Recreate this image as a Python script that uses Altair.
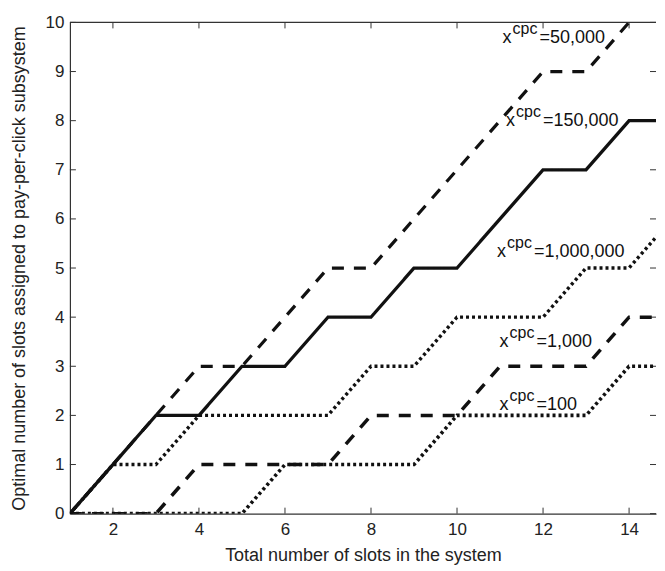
import altair as alt
import pandas as pd

# ---- data ----
slots = [1, 2, 3, 4, 5, 6, 7, 8, 9, 10, 11, 12, 13, 14, 15]
series_names = ["50,000", "150,000", "1,000,000", "1,000", "100"]
y_50000 = [0, 1, 2, 3, 3, 4, 5, 5, 6, 7, 8, 9, 9, 10, 11]
y_150000 = [0, 1, 2, 2, 3, 3, 4, 4, 5, 5, 6, 7, 7, 8, 8]
y_1000000 = [0, 1, 1, 2, 2, 2, 2, 3, 3, 4, 4, 4, 5, 5, 6]
y_1000 = [0, 0, 0, 1, 1, 1, 1, 2, 2, 2, 3, 3, 3, 4, 4]
y_100 = [0, 0, 0, 0, 0, 1, 1, 1, 1, 2, 2, 2, 2, 3, 3]

label_x = [11.06, 11.14, 10.93, 10.99, 10.99]
label_y = [9.59, 7.89, 5.23, 3.39, 2.11]
label_text = ["=50,000", "=150,000", "=1,000,000", "=1,000", "=100"]

x_ticks = [2, 4, 6, 8, 10, 12, 14]
y_ticks = [0, 1, 2, 3, 4, 5, 6, 7, 8, 9, 10]

W, H = 587, 492
XMAX = 1 + W / 43.08
FONT = "Liberation Sans"
INK = "#111111"

rows = []
for name, ys in zip(series_names, [y_50000, y_150000, y_1000000, y_1000, y_100]):
    for xv, yv in zip(slots, ys):
        rows.append({"series": name, "x": xv, "y": yv})
df = pd.DataFrame(rows)

labels = pd.DataFrame({"x": label_x, "y": label_y, "t": label_text})
xt = pd.DataFrame({"x": x_ticks})
yt = pd.DataFrame({"y": y_ticks})

xscale = alt.Scale(domain=[1, XMAX], nice=False, zero=False)
yscale = alt.Scale(domain=[0, 10], nice=False)

xaxis = alt.Axis(values=x_ticks, grid=False, ticks=False, tickSize=0, labelPadding=8,
                 labelFontSize=17, labelFont=FONT, labelColor="#222",
                 title="Total number of slots in the system", titleFontSize=18,
                 titleFont=FONT, titleFontWeight="normal", titleColor="#222",
                 titlePadding=9, domainColor="#333", domainWidth=1.2)
yaxis = alt.Axis(values=y_ticks, grid=False, ticks=False, tickSize=0, labelPadding=6,
                 labelFontSize=17, labelFont=FONT, labelColor="#222",
                 title="Optimal number of slots assigned to pay-per-click subsystem",
                 titleFontSize=18, titleFont=FONT, titleFontWeight="normal",
                 titleColor="#222", titlePadding=17, domainColor="#333", domainWidth=1.2)

lines = alt.Chart(df).mark_line(clip=True, color=INK).encode(
    x=alt.X("x:Q", scale=xscale, axis=xaxis),
    y=alt.Y("y:Q", scale=yscale, axis=yaxis),
    detail="series:N",
    strokeDash=alt.StrokeDash(
        "series:N",
        scale=alt.Scale(domain=series_names,
                        range=[[12, 10], [1, 0], [3, 3], [12, 10], [3, 3]]),
        legend=None,
    ),
    strokeWidth=alt.StrokeWidth(
        "series:N",
        scale=alt.Scale(domain=series_names, range=[3.2, 3.6, 3.2, 3.2, 3.2]),
        legend=None,
    ),
)

base_lab = alt.Chart(labels).encode(
    x=alt.X("x:Q", scale=xscale), y=alt.Y("y:Q", scale=yscale)
)
lab_x = base_lab.mark_text(align="left", baseline="alphabetic", fontSize=18,
                           font=FONT, color=INK).encode(text=alt.value("x"))
lab_sup = base_lab.mark_text(align="left", baseline="alphabetic", fontSize=16,
                             font=FONT, color=INK, dx=10, dy=-9).encode(text=alt.value("cpc"))
lab_eq = base_lab.mark_text(align="left", baseline="alphabetic", fontSize=18,
                            font=FONT, color=INK, dx=37).encode(text="t:N")

tick_style = dict(color="#333", strokeWidth=1)
bottom_ticks = alt.Chart(xt).mark_rule(**tick_style).encode(
    x=alt.X("x:Q", scale=xscale), y=alt.value(H), y2=alt.value(H - 6))
top_ticks = alt.Chart(xt).mark_rule(**tick_style).encode(
    x=alt.X("x:Q", scale=xscale), y=alt.value(0), y2=alt.value(6))
left_ticks = alt.Chart(yt).mark_rule(**tick_style).encode(
    y=alt.Y("y:Q", scale=yscale), x=alt.value(0), x2=alt.value(6))
right_ticks = alt.Chart(yt).mark_rule(**tick_style).encode(
    y=alt.Y("y:Q", scale=yscale), x=alt.value(W - 6), x2=alt.value(W))
top_border = alt.Chart(alt.Data(values=[{}])).mark_rule(color="#333", strokeWidth=1.2).encode(
    x=alt.value(0), x2=alt.value(W), y=alt.value(0))

chart = alt.layer(
    top_border, bottom_ticks, top_ticks, left_ticks, right_ticks,
    lines, lab_x, lab_sup, lab_eq,
).properties(
    width=W, height=H,
    padding={"left": 2, "top": 5, "right": 0, "bottom": 3},
    background="white",
).configure_view(stroke=None)

chart.save("out.html", embed_options={"renderer": "svg", "actions": False})
